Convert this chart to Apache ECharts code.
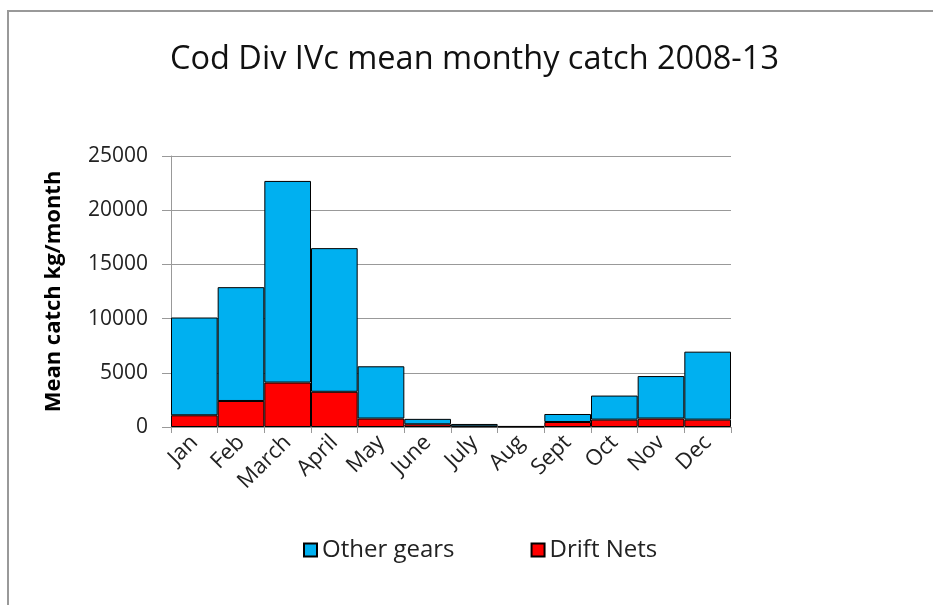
<!DOCTYPE html>
<html>
<head>
<meta charset="utf-8">
<script src="https://cdn.jsdelivr.net/npm/echarts@6/dist/echarts.min.js"></script>
<style>
html,body{margin:0;padding:0;background:#fff;}
#frame{position:absolute;left:7px;top:10px;width:940px;height:620px;border-left:2px solid #999;border-top:2px solid #999;}
#c{position:absolute;left:0;top:0;width:933px;height:605px;}
</style>
</head>
<body>
<div id="frame"></div>
<div id="c"></div>
<script>
const categories = ['Jan','Feb','March','April','May','June','July','Aug','Sept','Oct','Nov','Dec'];
const driftNets = [1080, 2400, 4100, 3250, 780, 250, 60, 30, 460, 680, 780, 680];
const otherGears = [9020, 10500, 18600, 13250, 4820, 500, 220, 40, 740, 2220, 3920, 6270];
const yTicks = [0, 5000, 10000, 15000, 20000, 25000];

const chart = echarts.init(document.getElementById('c'));
const font = "'Open Sans', 'Liberation Sans', sans-serif";
chart.setOption({
  backgroundColor: 'transparent',
  animation: false,
  title: {
    text: 'Cod Div IVc mean monthy catch 2008-13',
    left: 165, top: 38,
    textStyle: {fontFamily: font, fontSize: 32.5, fontWeight: 'normal', color: '#111'}
  },
  legend: {
    bottom: 38, left: 298,
    itemWidth: 13, itemHeight: 13, itemGap: 76,
    icon: 'rect',
    textStyle: {fontFamily: font, fontSize: 24, color: '#222'},
    data: ['Other gears', 'Drift Nets']
  },
  grid: {left: 171, right: 202, top: 156, bottom: 178},
  xAxis: {
    type: 'category',
    data: categories,
    axisLine: {lineStyle: {color: '#999'}},
    axisTick: {show: true, length: 6, lineStyle: {color: '#999'}},
    axisLabel: {rotate: 45, fontFamily: font, fontSize: 22, color: '#222', margin: 12}
  },
  yAxis: {
    type: 'value', min: yTicks[0], max: yTicks[yTicks.length-1], interval: 5000,
    name: 'Mean catch kg/month', nameLocation: 'middle', nameGap: 106,
    nameTextStyle: {fontFamily: font, fontSize: 22, fontWeight: 'bold', color: '#000'},
    axisLine: {show: true, lineStyle: {color: '#999'}},
    axisTick: {show: true, length: 9, inside: false, lineStyle: {color: '#999'}},
    splitLine: {lineStyle: {color: '#999'}},
    axisLabel: {fontFamily: font, fontSize: 21, color: '#222', margin: 23, formatter: v => String(v)}
  },
  series: [
    {
      name: 'Drift Nets', type: 'bar', stack: 'total', data: driftNets,
      barCategoryGap: 0,
      itemStyle: {color: '#FF0000', borderColor: '#000', borderWidth: 1}
    },
    {
      name: 'Other gears', type: 'bar', stack: 'total', data: otherGears,
      barCategoryGap: 0,
      itemStyle: {color: '#00B0F0', borderColor: '#000', borderWidth: 1}
    }
  ]
});
</script>
</body>
</html>
